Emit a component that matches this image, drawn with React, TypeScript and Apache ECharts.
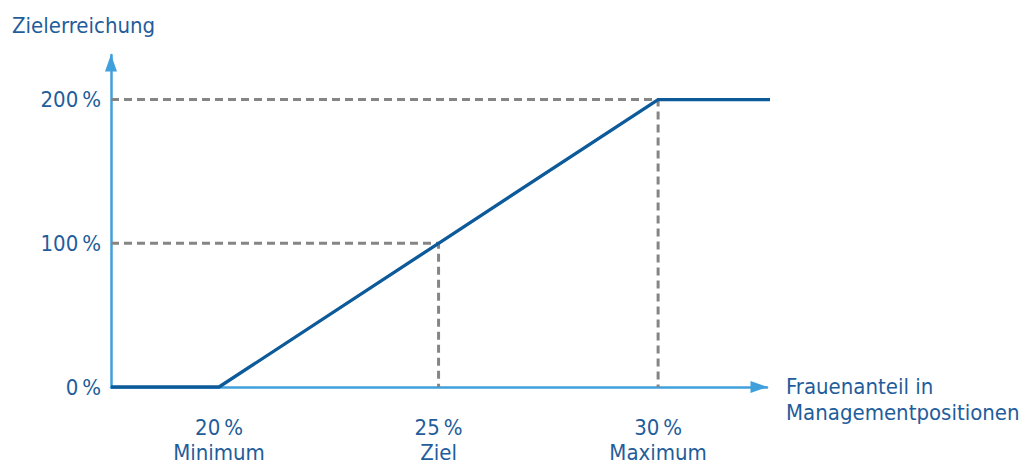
import React, { useEffect, useRef } from "react";
import * as echarts from "echarts";

const xMin = 17.54;
const xMax = 32.48;
const yMax = 231;
const mainLine: [number, number][] = [[17.54, 0], [20, 0], [25, 100], [30, 200], [32.73, 200]];
const guideZiel: [number, number][] = [[17.54, 100], [25, 100], [25, 0]];
const guideMax: [number, number][] = [[17.54, 200], [30, 200], [30, 0]];
const xTicks = [20, 25, 30];
const xTickNames: Record<number, string> = { 20: "Minimum", 25: "Ziel", 30: "Maximum" };
const yTicks = [0, 100, 200];
const yTitle = "Zielerreichung";
const xTitle = "Frauenanteil in\nManagementpositionen";

const FONT = "'DejaVu Sans Condensed', 'Liberation Sans Narrow', sans-serif";
const TEXT = "#1f5d9b";
const AXIS = "#3fa0db";
const LINE = "#0d5a9a";
const GRAY = "#858585";
const FS = 22;

export default function App() {
  const ref = useRef<HTMLDivElement>(null);
  useEffect(() => {
    const chart = echarts.init(ref.current!, undefined, { renderer: "svg" });
    chart.setOption({
      animation: false,
      grid: { left: 111, top: 55, width: 656, height: 335 },
      xAxis: {
        type: "value",
        min: xMin,
        max: xMax,
        splitLine: { show: false },
        axisTick: { show: false },
        axisLine: {
          show: true,
          lineStyle: { color: AXIS, width: 2.5 },
          symbol: ["none", "triangle"],
          symbolSize: [12, 17],
          symbolOffset: [0, -8],
        },
        axisLabel: {
          customValues: xTicks,
          margin: 28,
          fontFamily: FONT,
          fontSize: FS,
          lineHeight: 25,
          color: TEXT,
          formatter: (v: number) => `${v}\u2009%\n${xTickNames[v] ?? ""}`,
        },
      },
      yAxis: {
        type: "value",
        min: 0,
        max: yMax,
        splitLine: { show: false },
        axisTick: { show: false },
        axisLine: {
          show: true,
          lineStyle: { color: AXIS, width: 2.5 },
          symbol: ["none", "triangle"],
          symbolSize: [12, 17],
          symbolOffset: [0, -8],
        },
        axisLabel: {
          customValues: yTicks,
          margin: 10,
          fontFamily: FONT,
          fontSize: FS,
          color: TEXT,
          formatter: (v: number) => `${v}\u2009%`,
        },
      },
      series: [
        {
          type: "line",
          data: guideZiel,
          symbol: "none",
          z: 1,
          lineStyle: { color: GRAY, width: 3, type: [8, 5] },
        },
        {
          type: "line",
          data: guideMax,
          symbol: "none",
          z: 1,
          lineStyle: { color: GRAY, width: 3, type: [8, 5] },
        },
        {
          type: "line",
          data: mainLine,
          symbol: "none",
          clip: false,
          z: 5,
          lineStyle: { color: LINE, width: 3.3 },
        },
      ],
      graphic: [
        {
          type: "text",
          left: 12,
          top: 12,
          style: { text: yTitle, fontFamily: FONT, fontSize: FS, fill: TEXT, lineHeight: 26 },
        },
        {
          type: "text",
          left: 786,
          top: 373,
          style: { text: xTitle, fontFamily: FONT, fontSize: FS, fill: TEXT, lineHeight: 26 },
        },
      ],
    });
    return () => chart.dispose();
  }, []);
  return (
    <div
      ref={ref}
      style={{ position: "absolute", left: 0, top: 0, width: 1019, height: 465, background: "#fff" }}
    />
  );
}
